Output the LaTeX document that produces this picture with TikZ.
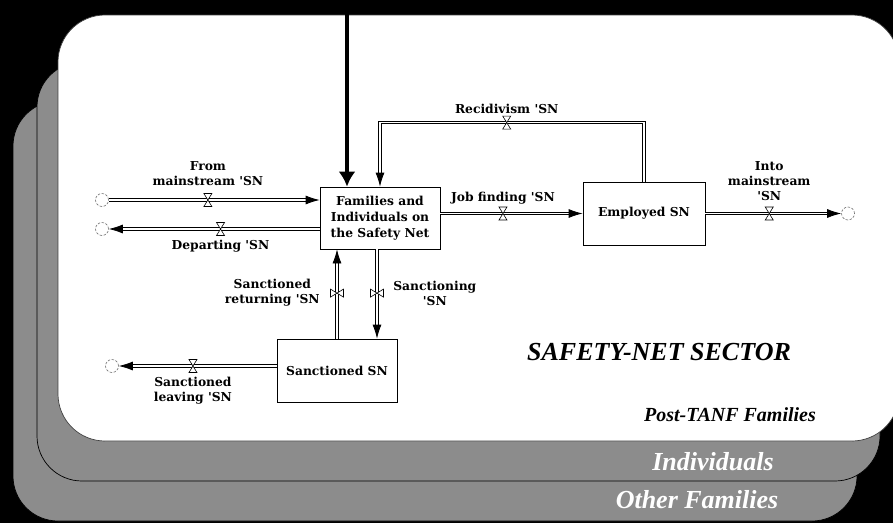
\documentclass[tikz,border=0pt]{standalone}
\usepackage{fontspec}
\setmainfont{DejaVu Serif}
\newfontfamily\panelfont{Liberation Serif}
\usetikzlibrary{arrows.meta,positioning,calc}

\newcommand{\tk}{\textquotesingle}

\tikzset{
  stock/.style={draw, line width=0.8pt, fill=white, minimum width=120pt, minimum height=62pt,
    align=center, inner sep=2pt, font=\fontsize{12.3}{16}\selectfont\bfseries},
  flow/.style={double=white, double distance=1.6pt, line width=0.8pt, -{Latex[length=14pt,width=9pt]}},
  valveh/.style={inner sep=0pt, minimum width=10pt, minimum height=15pt,
    path picture={\filldraw[fill=white, line width=0.6pt]
      ($(path picture bounding box.center)+(-4pt,6.5pt)$) -- ++(8pt,0pt) -- ++(-8pt,-13pt) -- ++(8pt,0pt) -- cycle;}},
  valvev/.style={inner sep=0pt, minimum width=15pt, minimum height=10pt,
    path picture={\filldraw[fill=white, line width=0.6pt]
      ($(path picture bounding box.center)+(-6.5pt,4pt)$) -- ++(0pt,-8pt) -- ++(13pt,8pt) -- ++(0pt,-8pt) -- cycle;}},
  cloudnode/.style={circle, draw=black!55, line width=0.6pt, dash pattern=on 2.5pt off 1.5pt, minimum size=13pt, inner sep=0pt},
  flowlabel/.style={align=center, inner sep=1pt, font=\fontsize{12.3}{15}\selectfont\bfseries},
  panel/.style={draw=black, line width=0.7pt, fill=black!45, rounded corners=45pt},
  paneltitle/.style={font=\panelfont\bfseries\itshape\fontsize{26}{30}\selectfont}
}

\begin{document}
\begin{tikzpicture}[x=1pt, y=-1pt, >=Latex]
  \useasboundingbox (0,0) rectangle (893,523);
  \clip (0,0) rectangle (893,523);
  \fill[black] (0,0) rectangle (893,523);

  % Stacked sectors
  \filldraw[panel] (13,101) rectangle (857,521);
  \filldraw[panel] (37,62) rectangle (880,481);
  \filldraw[panel, fill=white, draw=black!75, rounded corners=47pt] (58,15) rectangle (899,441);

  \node (other) [paneltitle, text=white] at (697,500) {Other Families};
  \node (indiv) [paneltitle, text=white] at (713,462) {Individuals};
  \node (sector) [paneltitle] at (659,352) {SAFETY-NET SECTOR};
  \node (posttanf) [paneltitle, font=\panelfont\bfseries\itshape\fontsize{20}{24}\selectfont] at (730,415) {Post-TANF Families};

  % Stocks
  \node (fam) [stock] at (380,218) {Families and\\Individuals on\\the Safety Net};
  \node (emp) [stock, right of=fam, node distance=264pt, yshift=4.5pt, minimum width=122pt, minimum height=63pt] {Employed SN};
  \node (sanc) [stock, below of=fam, node distance=152.5pt, xshift=-43pt, minimum height=63pt] {Sanctioned SN};

  % Sources and sinks
  \node (srcA) [cloudnode] at (102,200) {};
  \node (sinkA) [cloudnode] at (102,229) {};
  \node (sinkB) [cloudnode] at (848,213.5) {};
  \node (sinkC) [cloudnode] at (112,366) {};

  % Flows
  \draw[flow] (srcA) -- node (vfrom) [valveh, pos=.47, label={[flowlabel, label distance=5pt]above:From\\mainstream \tk SN}] {} (srcA -| fam.west);
  \draw[flow] (sinkA -| fam.west) -- node (vdep) [valveh, pos=.47, label={[flowlabel, label distance=2pt]below:Departing \tk SN}] {} (sinkA);
  \draw[flow] (fam.east |- emp.west) -- node (vjob) [valveh, pos=.44, label={[flowlabel, label distance=0pt]above:Job finding \tk SN}] {} (emp.west);
  \draw[flow] (emp.east) -- node (vinto) [valveh, pos=.47, label={[flowlabel, label distance=4pt]above:Into\\mainstream\\\tk SN}] {} (sinkB);
  \draw[flow] (emp.north) -- ++(0,-59) coordinate (rtop) -- node (vrec) [valveh, pos=.52, label={[flowlabel, label distance=0pt]above:Recidivism \tk SN}] {} (rtop -| fam.north) -- (fam.north);
  \draw[flow] (sanc.north) -- node (vret) [valvev, pos=.51, label={[flowlabel, label distance=8pt]left:Sanctioned\\returning \tk SN}] {} (sanc.north |- fam.south);
  \draw[flow] ([xshift=-3pt]fam.south) -- node (vsanc) [valvev, pos=.49, label={[flowlabel, label distance=7pt]right:Sanctioning\\\tk SN}] {} ([xshift=-3pt]fam.south |- sanc.north);
  \draw[flow] (sinkC -| sanc.west) -- node (vleave) [valveh, pos=.53, label={[flowlabel, label distance=2pt]below:Sanctioned\\leaving \tk SN}] {} (sinkC);

  % Inflow from outside the sector
  \coordinate (topin) at (347,0);
  \draw[line width=4.5pt, -{Latex[length=15pt,width=17pt]}] (topin) -- (topin |- fam.north);
\end{tikzpicture}
\end{document}
